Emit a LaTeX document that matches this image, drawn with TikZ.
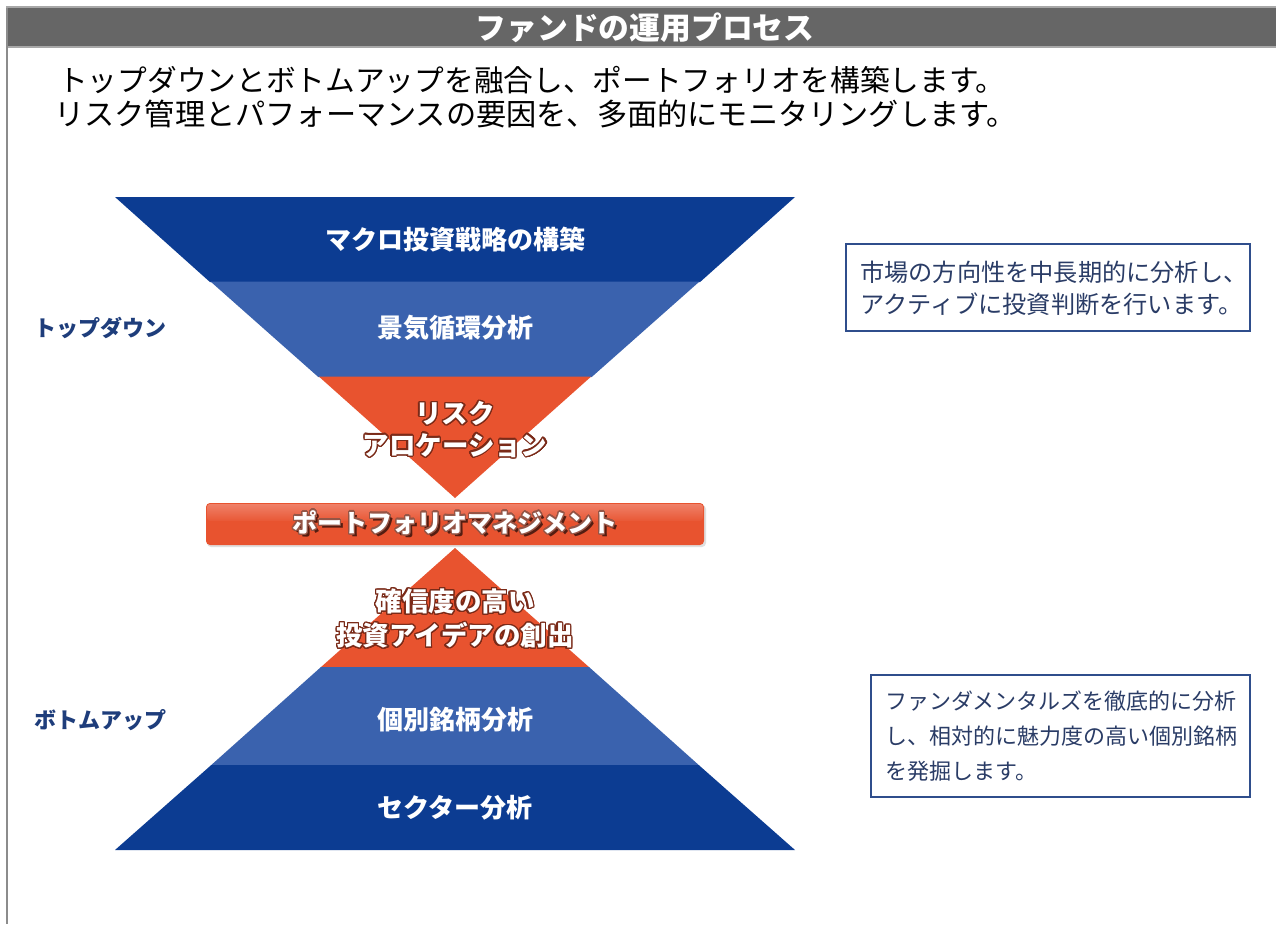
\documentclass[tikz,border=0pt]{standalone}
\usepackage{fontspec}
\setmainfont{Noto Sans CJK JP}
\usepackage{contour}
\contourlength{1.3pt}
\contournumber{24}
\definecolor{barGrey}{HTML}{666666}
\definecolor{lineGrey}{HTML}{A8A8A8}
\definecolor{borderGrey}{HTML}{8C8C8C}
\definecolor{dblue}{HTML}{0C3C92}
\definecolor{mblue}{HTML}{3A62AE}
\definecolor{orng}{HTML}{E8532F}
\definecolor{orngLight}{HTML}{EF8068}
\definecolor{outl}{HTML}{7A2A18}
\definecolor{navy}{HTML}{1E3D7B}
\definecolor{boxText}{HTML}{2A3C66}
\definecolor{boxLine}{HTML}{2F4E8C}
\tikzset{
  title/.style={text=white, font=\fontsize{30.8}{34}\selectfont\bfseries, inner sep=0pt},
  intro/.style={text=black, font=\fontsize{29.7}{32}\selectfont, inner sep=0pt, anchor=west},
  bandtext/.style={text=white, font=\fontsize{26}{30}\selectfont\bfseries, inner sep=0pt},
  orngtext/.style={text=white, font=\fontsize{26.5}{30}\selectfont\bfseries, inner sep=0pt},
  sidelabel/.style={text=navy, font=\fontsize{22}{26}\selectfont\bfseries, inner sep=0pt, anchor=west},
  boxtext/.style={text=boxText, font=\fontsize{22}{26}\selectfont, inner sep=0pt, anchor=west},
  infobox/.style={draw=boxLine, line width=2pt, fill=white}
}
\begin{document}
\begin{tikzpicture}[x=1pt,y=-1pt]
\useasboundingbox (0,0) rectangle (1276,924);
\fill[white] (0,0) rectangle (1276,924);
% header bar
\fill[barGrey] (6,8) rectangle (1276,46);
\draw[line width=2pt, lineGrey] (6,7) -- (1276,7);
\draw[line width=2pt, lineGrey] (6,47) -- (1276,47);
\draw[line width=2.5pt, borderGrey] (7,8) -- (7,924);
\node[title] (title) at (645,28) {ファンドの運用プロセス};
% intro
\node[intro] (intro1) at (58,80) {トップダウンとボトムアップを融合し、ポートフォリオを構築します。};
\node[intro, font=\fontsize{30.2}{32}\selectfont] (intro2) at (54,114) {リスク管理とパフォーマンスの要因を、多面的にモニタリングします。};
% upper inverted triangle
\fill[dblue] (115,197) -- (795,197) -- (700.1,282) -- (209.9,282) -- cycle;
\fill[mblue] (210.5,281.5) -- (699.5,281.5) -- (591.7,377) -- (318.3,377) -- cycle;
\fill[orng] (318.8,376.5) -- (591.2,376.5) -- (455,498) -- cycle;
% lower triangle
\fill[orng] (455,548) -- (589.5,667.5) -- (320.5,667.5) -- cycle;
\fill[mblue] (321,667) -- (589,667) -- (699.3,765.5) -- (210.7,765.5) -- cycle;
\fill[dblue] (211.3,765) -- (698.7,765) -- (795,850) -- (115,850) -- cycle;
% portfolio bar
\fill[gray!25, rounded corners=4pt] (207,505) rectangle (706,547);
\fill[orng, rounded corners=4pt] (206,503) rectangle (704,545);
\shade[top color=orngLight, bottom color=orng!90!orngLight, rounded corners=3pt] (207,504) rectangle (703,521);
% band texts
\node[bandtext] (macro) at (455,240) {マクロ投資戦略の構築};
\node[bandtext] (cycle) at (455,328) {景気循環分析};
\node[orngtext] (risk1) at (455,414) {\contour{outl}{リスク}};
\node[orngtext] (risk2) at (455,446) {\contour{outl}{アロケーション}};
\node[orngtext, text=outl!70!black, font=\fontsize{25}{30}\selectfont\bfseries] (pmshadow) at (457.5,526) {ポートフォリオマネジメント};
\node[orngtext, font=\fontsize{25}{30}\selectfont\bfseries] (pm) at (455,523) {\contour{outl!80}{ポートフォリオマネジメント}};
\node[orngtext] (idea1) at (455,602) {\contour{outl}{確信度の高い}};
\node[orngtext] (idea2) at (455,636) {\contour{outl}{投資アイデアの創出}};
\node[bandtext] (stock) at (455,720) {個別銘柄分析};
\node[bandtext] (sector) at (455,808) {セクター分析};
% side labels
\node[sidelabel] (topdown) at (34,328) {トップダウン};
\node[sidelabel] (bottomup) at (34,720) {ボトムアップ};
% info boxes
\draw[infobox] (846,244) rectangle (1250,331);
\node[boxtext, font=\fontsize{24.2}{26}\selectfont] (b1l1) at (860,272) {市場の方向性を中長期的に分析し、};
\node[boxtext, font=\fontsize{24.2}{26}\selectfont] (b1l2) at (860,304) {アクティブに投資判断を行います。};
\draw[infobox] (871,675) rectangle (1250,797);
\node[boxtext] (b2l1) at (885,701) {ファンダメンタルズを徹底的に分析};
\node[boxtext] (b2l2) at (885,736) {し、相対的に魅力度の高い個別銘柄};
\node[boxtext] (b2l3) at (885,771) {を発掘します。};
\end{tikzpicture}
\end{document}
